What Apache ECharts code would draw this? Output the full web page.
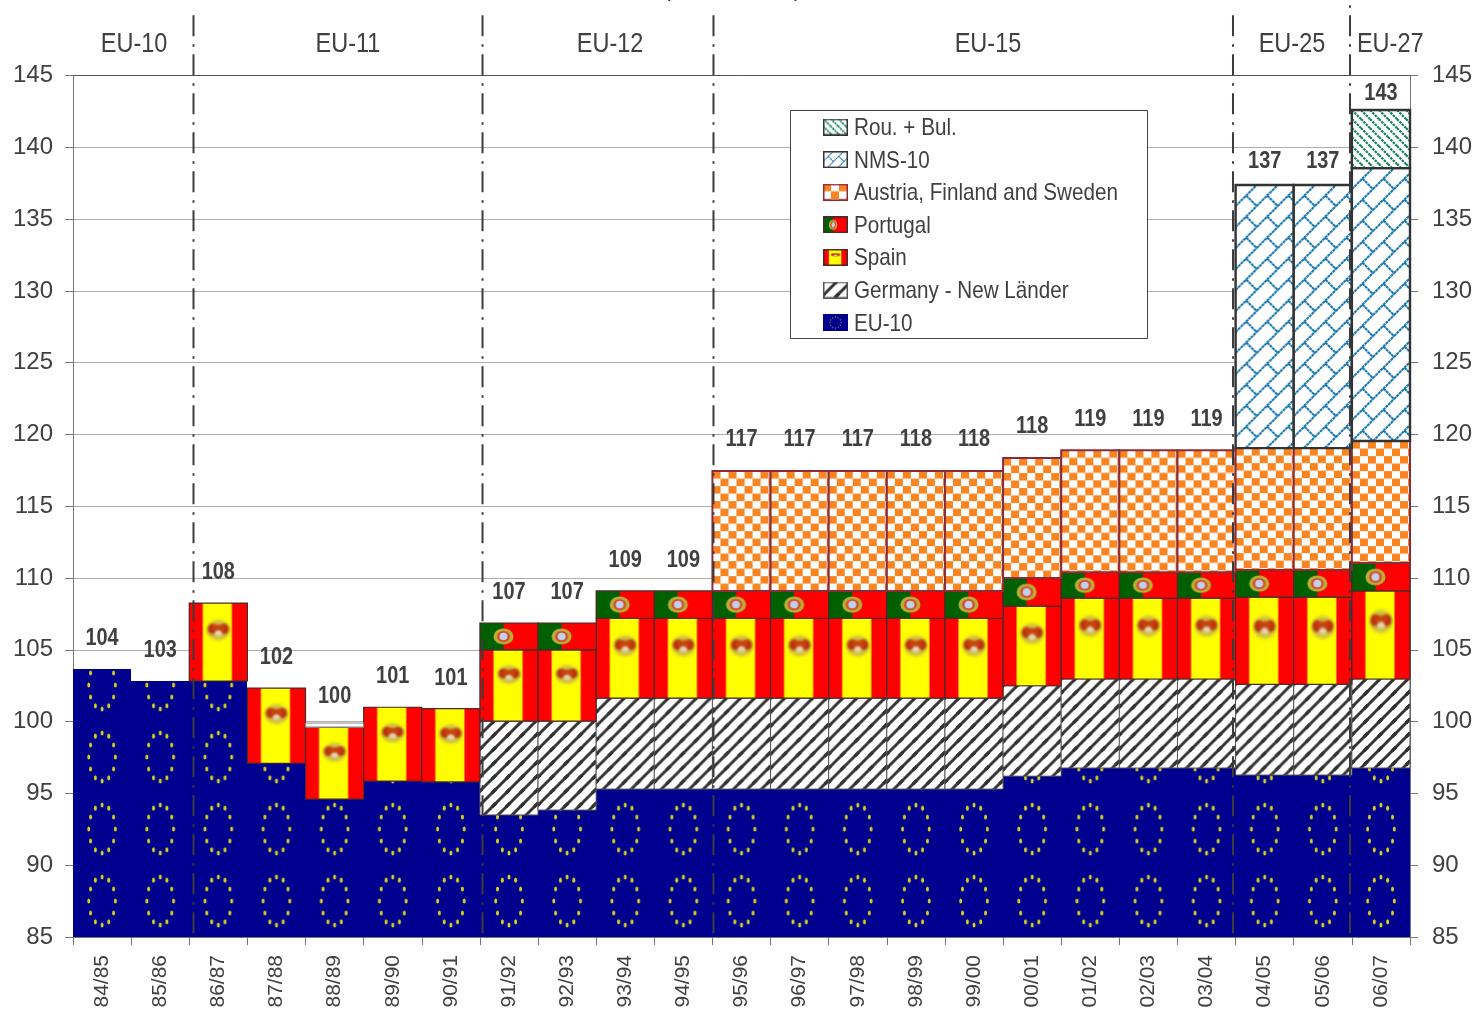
<!DOCTYPE html>
<html lang="en">
<head>
    <title>EU budget shares</title>
    <meta charset="utf-8">
    <style>
        html, body { margin: 0; padding: 0; background: #fff; overflow: hidden; }
        #main { width: 1477px; height: 1009px; }
    </style>
    <script src="https://cdn.jsdelivr.net/npm/echarts@6/dist/echarts.min.js"></script>
</head>
<body>
    <div id="main"></div>
    <script type="text/javascript">
        var categories = ["84/85", "85/86", "86/87", "87/88", "88/89", "89/90", "90/91", "91/92", "92/93", "93/94", "94/95", "95/96", "96/97", "97/98", "98/99", "99/00", "00/01", "01/02", "02/03", "03/04", "04/05", "05/06", "06/07"];
        // layer thickness, bottom to top
        var eu10 = [103.66, 102.83, 102.83, 97.1, 94.6, 95.86, 95.8, 93.5, 93.84, 95.3, 95.3, 95.3, 95.3, 95.3, 95.3, 95.3, 96.2, 96.77, 96.77, 96.77, 96.28, 96.28, 96.77];
        var germany = [0, 0, 0, 0, 0, 0, 0, 6.54, 6.2, 6.34, 6.34, 6.34, 6.34, 6.34, 6.34, 6.34, 6.3, 6.2, 6.2, 6.2, 6.32, 6.32, 6.2];
        var spain = [0, 0, 5.43, 5.24, 5.0, 5.14, 5.1, 4.96, 4.96, 5.56, 5.56, 5.56, 5.56, 5.56, 5.56, 5.56, 5.55, 5.63, 5.63, 5.63, 6.07, 6.07, 6.13];
        var portugal = [0, 0, 0, 0, 0, 0, 0, 1.87, 1.87, 1.9, 1.9, 1.9, 1.9, 1.9, 1.9, 1.9, 1.95, 1.8, 1.8, 1.8, 1.89, 1.89, 1.95];
        var austria = [0, 0, 0, 0, 0, 0, 0, 0, 0, 0, 0, 8.35, 8.35, 8.35, 8.35, 8.35, 8.36, 8.5, 8.5, 8.5, 8.49, 8.49, 8.49];
        var nms10 = [0, 0, 0, 0, 0, 0, 0, 0, 0, 0, 0, 0, 0, 0, 0, 0, 0, 0, 0, 0, 18.32, 18.32, 19.01];
        var rouBul = [0, 0, 0, 0, 0, 0, 0, 0, 0, 0, 0, 0, 0, 0, 0, 0, 0, 0, 0, 0, 0, 0, 4.05];
        // thin empty slip above Spain in 88/89
        var slip = [0, 0, 0, 0, 0.3, 0, 0, 0, 0, 0, 0, 0, 0, 0, 0, 0, 0, 0, 0, 0, 0, 0, 0];

        var totals = [104, 103, 108, 102, 100, 101, 101, 107, 107, 109, 109, 117, 117, 117, 118, 118, 118, 119, 119, 119, 137, 137, 143];
        var totalsAt = [105.89, 105.06, 110.49, 104.57, 101.85, 103.25, 103.1, 109.1, 109.1, 111.32, 111.32, 119.75, 119.75, 119.75, 119.75, 119.75, 120.65, 121.14, 121.14, 121.14, 139.1, 139.1, 143.85];

        var eras = ["EU-10", "EU-11", "EU-12", "EU-15", "EU-25", "EU-27"];
        var eraCenters = [1.05, 4.73, 9.24, 15.74, 20.97, 22.66];
        var eraLevel = 147.25;
        var separators = [2.073, 7.045, 11.018, 19.955, 21.968];
        var separatorTops = [149.2, 149.2, 149.2, 149.2, 149.9];
        var separatorBottom = 84.8;

        var Y_MIN = 85, Y_MAX = 145;
        var TEXT = "#404040";
        var FONT = "Liberation Sans";

        function newCanvas(w, h) {
            var c = document.createElement("canvas");
            c.width = w;
            c.height = h;
            return c;
        }

        // repeat a w x h tile over a canvas
        function tiled(W, H, w, h, draw, fromBottom) {
            var c = newCanvas(W, H), ctx = c.getContext("2d");
            ctx.fillStyle = "#fff";
            ctx.fillRect(0, 0, W, H);
            for (var y = 0; y < H + h; y += h) {
                for (var x = -w; x < W + w; x += w) {
                    ctx.save();
                    ctx.translate(x, fromBottom ? H - y - h : y);
                    draw(ctx, w, h);
                    ctx.restore();
                }
            }
            return c;
        }

        function drawEuTile(ctx, w, h) {
            ctx.fillStyle = "#00008f";
            ctx.fillRect(0, 0, w, h);
            ctx.fillStyle = "#dccf1e";
            for (var a = 0; a < 12; a++) {
                ctx.beginPath();
                ctx.ellipse(w / 2 + 13.3 * Math.cos(a * Math.PI / 6), h / 2 + 24 * Math.sin(a * Math.PI / 6), 1.5, 2.6, 0, 0, 7);
                ctx.fill();
            }
        }

        function drawGermanyTile(ctx, w, h) {
            ctx.strokeStyle = "#333";
            ctx.lineWidth = 3;
            ctx.beginPath();
            ctx.moveTo(-2, h + 2);
            ctx.lineTo(w + 2, -2);
            ctx.moveTo(-2, 2);
            ctx.lineTo(2, -2);
            ctx.moveTo(w - 2, h + 2);
            ctx.lineTo(w + 2, h - 2);
            ctx.stroke();
        }

        function drawCheckTile(ctx, w, h) {
            ctx.fillStyle = "#f98420";
            ctx.fillRect(0, 0, w / 2, h / 2);
            ctx.fillRect(w / 2, h / 2, w / 2, h / 2);
        }

        function drawBrickTile(ctx, w, h) {
            ctx.strokeStyle = "#0a6fa8";
            ctx.lineWidth = 2;
            ctx.setLineDash([3, 0.6]);
            ctx.beginPath();
            ctx.moveTo(0, h);
            ctx.lineTo(w, 0);
            ctx.moveTo(w / 2, h / 2);
            ctx.lineTo(w, h);
            ctx.stroke();
        }

        function drawGreenTile(ctx, w, h) {
            ctx.strokeStyle = "#0f8055";
            ctx.lineWidth = 2.2;
            ctx.setLineDash([2.5, 1]);
            ctx.beginPath();
            ctx.moveTo(0, 0);
            ctx.lineTo(w, h);
            ctx.stroke();
        }

        function spainFlag() {
            var c = newCanvas(58, 75), ctx = c.getContext("2d");
            ctx.fillStyle = "#ff0000";
            ctx.fillRect(0, 0, 58, 75);
            ctx.filter = "blur(0.6px)";
            ctx.fillStyle = "#ffff00";
            ctx.fillRect(13.5, -3, 29, 81);
            ctx.filter = "blur(1.5px)";
            ctx.fillStyle = "#cfc040";
            ctx.beginPath();
            ctx.ellipse(29, 26, 11.5, 10, 0, 0, 7);
            ctx.fill();
            ctx.filter = "blur(1px)";
            ctx.fillStyle = "#b9320c";
            ctx.beginPath();
            ctx.ellipse(23, 25, 4.5, 5, 0, 0, 7);
            ctx.ellipse(35, 25, 4.5, 5, 0, 0, 7);
            ctx.fill();
            ctx.fillStyle = "#c8420f";
            ctx.fillRect(23, 21, 12, 6);
            ctx.fillStyle = "#e8d2c8";
            ctx.beginPath();
            ctx.ellipse(29, 29, 3.4, 2.6, 0, 0, 7);
            ctx.fill();
            return c;
        }

        function portugalFlag() {
            var c = newCanvas(58, 27), ctx = c.getContext("2d");
            ctx.fillStyle = "#ff0000";
            ctx.fillRect(0, 0, 58, 27);
            ctx.fillStyle = "#006000";
            ctx.fillRect(0, 0, 23.5, 27);
            ctx.filter = "blur(0.5px)";
            ctx.fillStyle = "#b9b030";
            ctx.beginPath();
            ctx.ellipse(23.5, 13.5, 10, 8, 0, 0, 7);
            ctx.fill();
            ctx.fillStyle = "#d8483a";
            ctx.beginPath();
            ctx.ellipse(23.5, 13.5, 6.4, 5.6, 0, 0, 7);
            ctx.fill();
            ctx.fillStyle = "#c0d2ea";
            ctx.beginPath();
            ctx.ellipse(23.5, 13.5, 4, 3.8, 0, 0, 7);
            ctx.fill();
            return c;
        }

        var TILE_W = 58, TILE_H = 460;
        var layers = [
            { name: "EU-10", values: eu10, image: tiled(TILE_W, TILE_H, 58, 72, drawEuTile, true), anchor: "bottom" },
            { name: "Germany - New Länder", values: germany, image: tiled(TILE_W, TILE_H, 14, 14, drawGermanyTile), anchor: "top", stroke: "#555", width: 1 },
            { name: "Spain", values: spain, image: spainFlag(), anchor: "stretch", stroke: "#4a2a2a", width: 1.2 },
            { name: "Portugal", values: portugal, image: portugalFlag(), anchor: "stretch", stroke: "#4a2a2a", width: 1.2 },
            { name: "Austria, Finland and Sweden", values: austria, image: tiled(TILE_W, TILE_H, 16, 15, drawCheckTile), anchor: "top", stroke: "#8e2b3a", width: 2 },
            { name: "NMS-10", values: nms10, image: tiled(TILE_W, TILE_H, 21, 21, drawBrickTile), anchor: "top", stroke: "#333", width: 2.4, iconZoom: 2 },
            { name: "Rou. + Bul.", values: rouBul, image: tiled(TILE_W, TILE_H, 9, 9, drawGreenTile), anchor: "top", stroke: "#333", width: 2.4, iconZoom: 1.2 },
            { name: "slip", values: slip, stroke: "#8a8a8a", width: 1 }
        ];

        function legendIcon(layer) {
            var c = newCanvas(25, 17), ctx = c.getContext("2d");
            if (layer.anchor === "stretch") {
                ctx.drawImage(layer.image, 0, 0, 25, 17);
            } else if (layer.name === "EU-10") {
                ctx.fillStyle = "#00008f";
                ctx.fillRect(0, 0, 25, 17);
                ctx.fillStyle = "#c8bc2a";
                for (var a = 0; a < 12; a++) {
                    ctx.fillRect(12 + 5.5 * Math.cos(a * Math.PI / 6), 8 + 5.5 * Math.sin(a * Math.PI / 6), 1, 1);
                }
            } else {
                var z = layer.iconZoom || 1;
                ctx.drawImage(layer.image, 0, 0, 25 * z, 17 * z, 0, 0, 25, 17);
            }
            if (layer.stroke) {
                ctx.strokeStyle = layer.stroke;
                ctx.lineWidth = 1.5;
                ctx.strokeRect(0.75, 0.75, 23.5, 15.5);
            }
            return c;
        }

        function layerSeries(layer, base) {
            var rows = [];
            layer.values.forEach(function (v, i) {
                if (v > 0) rows.push([i, Math.max(base[i], Y_MIN), base[i] + v]);
                base[i] += v;
            });
            return {
                type: "custom",
                name: layer.name,
                data: rows,
                encode: { x: 0, y: [1, 2] },
                silent: true,
                renderItem: function (params, api) {
                    var low = api.coord([api.value(0), api.value(1)]);
                    var high = api.coord([api.value(0), api.value(2)]);
                    var w = api.size([1, 0])[0];
                    var h = low[1] - high[1];
                    var x = low[0] - w / 2;
                    var children = [];
                    if (layer.image) {
                        var style = { image: layer.image, x: x, y: high[1], width: w, height: h };
                        if (layer.anchor !== "stretch") {
                            style.sx = 0;
                            style.sy = layer.anchor === "bottom" ? TILE_H - h : 0;
                            style.sWidth = TILE_W;
                            style.sHeight = h;
                        }
                        children.push({ type: "image", style: style });
                    }
                    if (layer.stroke) {
                        children.push({
                            type: "rect",
                            shape: { x: x, y: high[1], width: w, height: h },
                            style: { fill: "transparent", stroke: layer.stroke, lineWidth: layer.width }
                        });
                    }
                    return { type: "group", children: children };
                }
            };
        }

        // text squeezed sideways, the original lettering is narrow
        function textSeries(rows, font, squeeze) {
            return {
                type: "custom",
                xAxisIndex: 1,
                data: rows,
                encode: { x: 0, y: 1 },
                silent: true,
                clip: false,
                z: 5,
                renderItem: function (params, api) {
                    var p = api.coord([api.value(0), api.value(1)]);
                    return {
                        type: "text",
                        x: p[0],
                        y: p[1] + 1.5,
                        scaleX: squeeze,
                        style: { text: String(rows[params.dataIndex][2]), x: 0, y: 0, textAlign: "center", textVerticalAlign: "middle", font: font, fill: TEXT }
                    };
                }
            };
        }

        var base = categories.map(function () { return 0; });
        var series = layers.map(function (layer) { return layerSeries(layer, base); });

        series.push({
            type: "custom",
            xAxisIndex: 1,
            data: separators.map(function (x, i) { return [x, separatorTops[i], separatorBottom]; }),
            encode: { x: 0, y: [1, 2] },
            silent: true,
            clip: false,
            z: 4,
            renderItem: function (params, api) {
                var top = api.coord([api.value(0), api.value(1)]);
                var bottom = api.coord([api.value(0), api.value(2)]);
                return {
                    type: "line",
                    shape: { x1: top[0], y1: top[1], x2: bottom[0], y2: bottom[1] },
                    style: { stroke: "#3c3c3c", lineWidth: 2, lineDash: [21, 8, 2.5, 7.5], lineDashOffset: api.value(1) > 149.5 ? 29 : 0 }
                };
            }
        });

        series.push(textSeries(totals.map(function (t, i) { return [i + 0.5, totalsAt[i], t]; }), "bold 24px " + FONT, 0.83));
        series.push(textSeries(eras.map(function (e, i) { return [eraCenters[i], eraLevel, e]; }), "27px " + FONT, 0.87));

        // legend box, drawn by hand so the lettering can be narrowed too
        var legendNames = layers.slice(0, 7).reverse();
        var legendChildren = [{
            type: "rect",
            z: 10,
            shape: { x: 790.5, y: 110.5, width: 357, height: 228 },
            style: { fill: "#fff", stroke: "#444", lineWidth: 1 }
        }];
        legendNames.forEach(function (layer, i) {
            var rowY = 127 + 32.6 * i;
            legendChildren.push({
                type: "image",
                z: 11,
                style: { image: legendIcon(layer), x: 823, y: rowY - 8.5, width: 25, height: 17 }
            });
            legendChildren.push({
                type: "text",
                z: 11,
                x: 854,
                y: rowY + 1.5,
                scaleX: 0.875,
                style: { text: layer.name, x: 0, y: 0, textVerticalAlign: "middle", font: "23.6px " + FONT, fill: TEXT }
            });
        });

        var yAxisBase = {
            type: "value",
            min: Y_MIN,
            max: Y_MAX,
            interval: 5,
            axisLine: { show: true, lineStyle: { color: "#777", width: 1 } },
            axisTick: { show: true, length: 8, lineStyle: { color: "#777", width: 1 } },
            axisLabel: { color: TEXT, fontSize: 24, fontFamily: FONT, padding: [6, 0, 0, 0] }
        };

        var option = {
            animation: false,
            backgroundColor: "#fff",
            textStyle: { fontFamily: FONT, color: TEXT },
            grid: { left: 73, right: 67, top: 75.5, bottom: 72, containLabel: false, outerBoundsMode: "none" },
            legend: { show: false },
            xAxis: [{
                type: "category",
                data: categories,
                boundaryGap: true,
                axisLine: { show: true, lineStyle: { color: "#777", width: 1 } },
                axisTick: { show: true, length: 8, alignWithLabel: false, lineStyle: { color: "#777", width: 1 } },
                axisLabel: { rotate: 90, interval: 0, margin: 18, color: TEXT, fontSize: 21, fontFamily: FONT },
                splitLine: { show: false }
            }, {
                type: "value",
                position: "top",
                min: 0,
                max: 23,
                axisLine: { show: true, lineStyle: { color: "#555", width: 1 } },
                axisTick: { show: false },
                axisLabel: { show: false },
                splitLine: { show: false }
            }],
            yAxis: [
                Object.assign({}, yAxisBase, {
                    position: "left",
                    axisLabel: Object.assign({}, yAxisBase.axisLabel, { margin: 20 }),
                    splitLine: { show: true, lineStyle: { color: "#b3aca8", width: 1 } }
                }),
                Object.assign({}, yAxisBase, {
                    position: "right",
                    axisLabel: Object.assign({}, yAxisBase.axisLabel, { margin: 22 }),
                    splitLine: { show: false }
                })
            ],
            graphic: { elements: [
                { type: "group", z: 10, children: legendChildren },
                // bottom edge of the cut-off heading
                { type: "text", left: 663, top: -22, style: { text: "(", fontSize: 23, fontFamily: FONT, fill: TEXT } },
                { type: "text", left: 794, top: -22, style: { text: "),", fontSize: 23, fontFamily: FONT, fill: TEXT } }
            ] },
            series: series
        };

        var mychart = echarts.init(document.getElementById("main"));
        mychart.setOption(option);
    </script>
</body>
</html>
